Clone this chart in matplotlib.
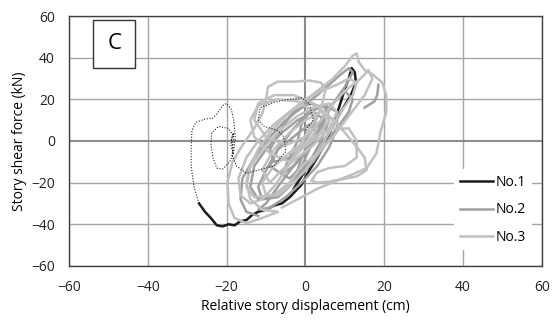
import numpy as np
import matplotlib.pyplot as plt

nan = np.nan

# No.1 (black)
n1_x = [-27, -25.5, -24, -22.5, -21, -19.5, -18, -16.5, -15, -13.5, -12, -10, -8, -6, -4,
        -2.5, -1, 1, 3, 5, 7, 8.5, 10, 11, 11.7, 12.5, 12.8, 11.5, 9, 6, 3, 0, -2, -3]
n1_y = [-30, -34, -37, -40.5, -41, -40, -40.5, -38.5, -38, -35.5, -34, -33, -31, -30, -27,
        -24, -21, -14, -8, -1, 8, 16, 25, 30, 35, 33, 28, 22, 14, 4, -6, -14, -20, -23]

# No.2 (mid grey)
n2_x = [-12, -15, -16.5, -16, -13, -9, -5, -1, 3, 6, 9, 11, 12, 10, 7, 4, 1, -3, -7, -10,
        -12, -9, -5, -1, 3, 6, 8, 8, 5, 1, -3, -7, -10, -12, -11, -7, -3, 1, 4, 6, 5, 1,
        -3, -6, -9, -8, -4, -1, 2, 3, 1, -1, -2, -4, -6, -4, -1, 1, 3, 5, 8, 10,
        12, 11, 8, 4, 0, -4, -8, -12, -14, -13, -10, -6, -2, 2, 5, 3, 0, -3, -6, -9,
        -7, -3, 1, 3, 1, -1, -2, -1, 2, 5, 7,
        nan, 15, 17.5, 18.2, 18.5]
n2_y = [-36, -34, -28, -18, -8, 2, 10, 16, 22, 27, 32, 35, 33, 26, 18, 8, -2, -12, -22, -30,
        -33, -32, -27, -20, -12, -3, 6, 14, 17, 14, 6, -4, -14, -22, -28, -27, -20, -10, 0, 10, 16, 18,
        14, 6, -4, -10, -8, -2, 6, 12, 14, 8, 0, -8, -16, -18, -12, -4, 6, 14, 20, 24,
        20, 14, 6, -4, -12, -20, -26, -28, -22, -12, -4, 4, 10, 14, 10, 2, -6, -12, -16, -12,
        -4, 2, 8, 4, -2, -8, -14, -16, -10, -2, 4,
        nan, 16, 19, 22, 27]

# No.3 (light grey)
n3_x = [-6, -2, 3, 8, 12, 15.5, 18, 19, 20.5, 20.5, 19.5, 17, 15, 13.5, 13, 12, 10, 7, 3, -1,
        -5, -9, -12, -14, -15, -14, -11, -7,
        -11, -15, -18, -19.5, -19.8, -18.5, -16, -13, -11, -10, -9.5, -7, -3, 1, 4, 5, 4, 1,
        -2, -5, -8, -11, -14, -16.5, -17, -15, -12, -8, -4, 0, 4, 8, 11, 13, 12, 9, 6, 3, 0,
        -3, -7, -10, -11,
        -8, -3, 2, 7, 11, 13, 13, 10, 6, 3, 1.5, 3, 6, 9, 13, 15.5, 15, 13.5,
        10, 6, 2, -3, -8, -12, -13, -10, -5, 0, 4, 7, 10, 14, 16, 17, 15, 11, 7, 3,
        -1, -4, -8, -13, -15, -14, -10, -6, -2, 2, 6, 8, 6, 2, -2, -6, -9, -11, -8, -4,
        0, 4, 6, 3, -1, -4, -9, -13, -14, -12, -7, -2, 2, 3, 0, -4]
n3_y = [-32, -28, -23, -19, -16, -13, -6, 4, 14, 22, 28, 32, 34, 38, 42, 41, 36, 30, 24, 18,
        12, 4, -4, -12, -20, -28, -33, -34,
        -37, -39.5, -37, -30, -20, -10, -2, 6, 13, 20, 26, 28.5, 28.5, 29, 28, 24, 16, 6,
        -4, -14, -22, -28, -30, -26, -18, -8, 0, 8, 14, 20, 24, 27, 30, 28, 22, 14, 4, -6, -14,
        -20, -26, -26, -20,
        -12, -4, 2, 6, 6, 0, -8, -12, -13, -15, -19, -20, -19.5, -18.5, -17, -14, -8, -4,
        4, 12, 18, 22, 22, 18, 10, 2, -2, 2, 10, 18, 24, 30, 34, 30, 22, 12, 2, -6,
        -12, -20, -26, -27, -22, -12, -2, 6, 12, 16, 18, 14, 6, -2, -8, -14, -20, -14, -4, 4,
        10, 14, 10, 2, -4, -10, -6, 2, 10, 17, 20, 19, 14, 6, -2, -6]

# unlabelled dotted series
dot_x = [-27, -28.3, -29, -29, -28.8, -27.8, -25.5, -23.5, -22.5, -21, -20, -18.8, -18.2, -17.8,
         -18.2, -19.2, -21, -22.5, -23.5, -24, -23.8, -22, -19.5, -18.5, -19, -18.3, -18.8, -18.2,
         -18.6, -17.5, -15, -12, -8, -5, -5.5, -7, -10.5, -12, -11.5, -8, -5, -1, 1, 2, 0]
dot_y = [-30, -22, -12, -2, 5, 9, 10.5, 11, 13, 17, 18, 15, 10, 2,
         -5, -10, -13.5, -13, -8, -1, 4, 7, 6, 3, -2, -6, 1, 4,
         -7, -12, -15.5, -14, -12, -5, 2, 5, 7, 10, 16, 18.5, 19.7, 20.8, 18, 10, 5]

ticks = [-60, -40, -20, 0, 20, 40, 60]

plt.rcParams['font.family'] = ['Open Sans', 'DejaVu Sans']

fig = plt.figure(figsize=(5.6, 3.2), dpi=100)
ax = fig.add_axes([0.1232, 0.169, 0.8446, 0.781])

for t in ticks:
    if t == 0:
        continue
    ax.axvline(t, color='#a6a6a6', lw=1.0, zorder=0)
    ax.axhline(t, color='#a6a6a6', lw=1.0, zorder=0)
ax.axvline(0, color='#8c8c8c', lw=1.5, zorder=0)
ax.axhline(0, color='#8c8c8c', lw=1.5, zorder=0)

ax.plot(n1_x, n1_y, color='#1a1a1a', lw=1.8, label='No.1', zorder=2, solid_joinstyle='round')
ax.plot(n2_x, n2_y, color='#a0a0a0', lw=1.8, label='No.2', zorder=3, solid_joinstyle='round')
ax.plot(n3_x, n3_y, color='#c0c0c0', lw=1.8, label='No.3', zorder=4, solid_joinstyle='round')
ax.plot(dot_x, dot_y, color='#222222', lw=0.8, ls=(0, (1, 1.5)), zorder=5)

ax.set_xlim(-60, 60)
ax.set_ylim(-60, 60)
ax.set_xticks(ticks)
ax.set_yticks(ticks)
ax.tick_params(length=0, labelsize=10, pad=10, colors='#222222')
for s in ax.spines.values():
    s.set_color('#404040')
    s.set_linewidth(1.0)

ax.set_xlabel('Relative story displacement (cm)', fontsize=10, labelpad=3)
ax.set_ylabel('Story shear force (kN)', fontsize=10, labelpad=3)

ax.text(0.0955, 0.888, 'C', transform=ax.transAxes, fontsize=16, ha='center', va='center',
        bbox=dict(boxstyle='square,pad=0.62', fc='white', ec='#333333', lw=1.0), zorder=6)

leg = ax.legend(loc='center', bbox_to_anchor=(0.897, 0.224), fontsize=10, handlelength=2.4,
                handletextpad=0.2, labelspacing=0.9, frameon=True, fancybox=False,
                borderpad=0.4)
leg.get_frame().set_facecolor('white')
leg.get_frame().set_edgecolor('none')
leg.get_frame().set_alpha(1)
leg.set_zorder(7)

fig.savefig('out.png', dpi=100)
